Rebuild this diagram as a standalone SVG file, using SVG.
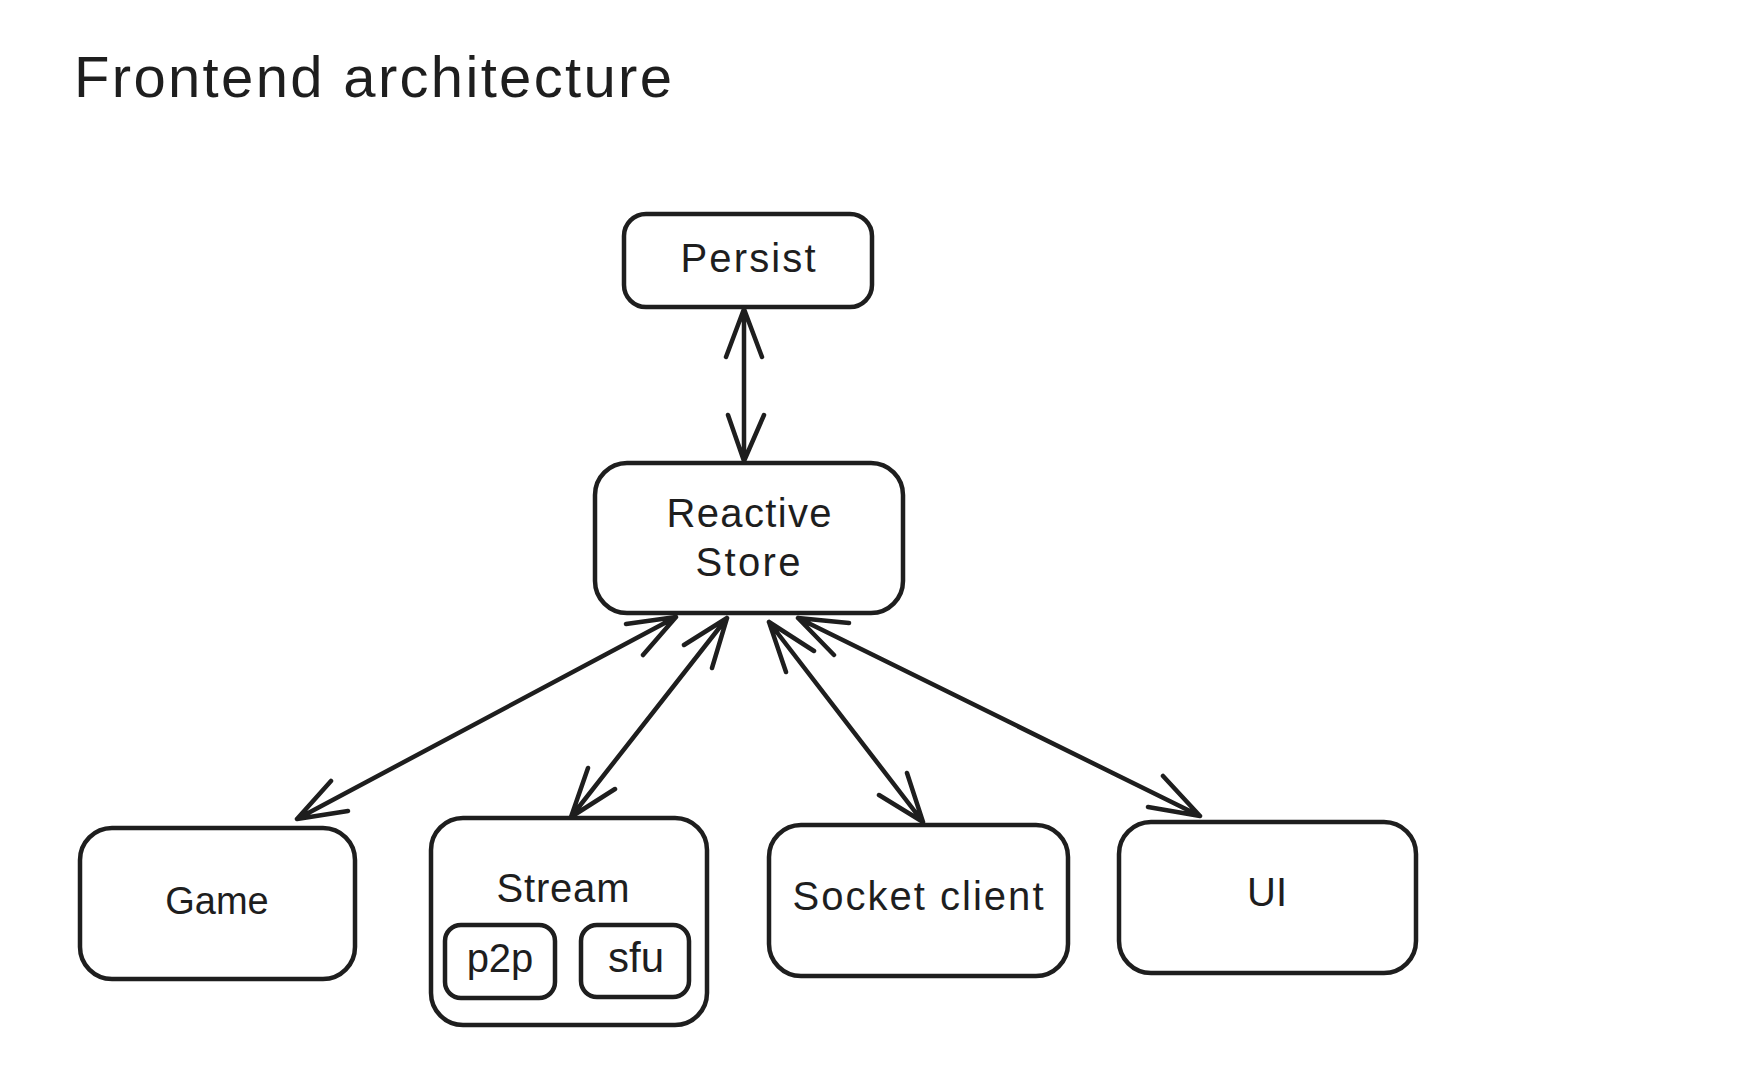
<svg xmlns="http://www.w3.org/2000/svg" width="1738" height="1070" viewBox="0 0 1738 1070">
<style>
.box{fill:none;stroke:#1e1e1e;stroke-width:4.5;stroke-linejoin:round}
.edge{fill:none;stroke:#1e1e1e;stroke-width:4.5;stroke-linecap:round;stroke-linejoin:round}
.lbl{font-family:"Liberation Sans","Noto Sans",sans-serif;font-size:40px;fill:#1e1e1e;text-anchor:middle}
.title{font-family:"Liberation Sans","Noto Sans",sans-serif;font-size:58px;fill:#1e1e1e}
</style>
<rect width="1738" height="1070" fill="#ffffff"/>
<g id="title">
<text class="title" x="74" y="97" textLength="598" lengthAdjust="spacing">Frontend architecture</text>
</g>
<g id="connectors">
<path class="edge" d="M744 309 L744 461 M726 357 L744 309 L762 357 M728 415 L744 461 L764 415"/>
<path class="edge" d="M297 819 L676 617 M331 781 L297 819 L348 811 M626 624 L676 617 L643 655"/>
<path class="edge" d="M571 817 L727 618 M588 768 L571 817 L615 789 M684 645 L727 618 L712 668"/>
<path class="edge" d="M769 622 L923 822 M786 672 L769 622 L814 651 M907 773 L923 822 L879 795"/>
<path class="edge" d="M798 618 L1200 816 M834 655 L798 618 L849 623 M1163 776 L1200 816 L1148 807"/>
</g>
<g id="persist">
<rect class="box" x="624" y="214" width="248" height="93" rx="22"/>
<text class="lbl" x="748" y="272" textLength="135" lengthAdjust="spacing">Persist</text>
</g>
<g id="store">
<rect class="box" x="595" y="463" width="308" height="150" rx="32"/>
<text class="lbl" x="749" y="527" textLength="165" lengthAdjust="spacing">Reactive</text>
<text class="lbl" x="748" y="576" textLength="105" lengthAdjust="spacing">Store</text>
</g>
<g id="game">
<rect class="box" x="80" y="828" width="275" height="151" rx="32"/>
<text class="lbl" x="217" y="914" style="font-size:38px">Game</text>
</g>
<g id="stream">
<rect class="box" x="431" y="818" width="276" height="207" rx="32"/>
<text class="lbl" x="563" y="902" textLength="133" lengthAdjust="spacing">Stream</text>
<g id="p2p">
<rect class="box" x="445" y="925" width="110" height="73" rx="16"/>
<text class="lbl" x="500" y="972">p2p</text>
</g>
<g id="sfu">
<rect class="box" x="581" y="925" width="108" height="72" rx="16"/>
<text class="lbl" x="636" y="972" style="font-size:42px">sfu</text>
</g>
</g>
<g id="socket">
<rect class="box" x="769" y="825" width="299" height="151" rx="32"/>
<text class="lbl" x="918" y="910" textLength="251" lengthAdjust="spacing">Socket client</text>
</g>
<g id="ui">
<rect class="box" x="1119" y="822" width="297" height="151" rx="32"/>
<text class="lbl" x="1267" y="906">UI</text>
</g>
</svg>
